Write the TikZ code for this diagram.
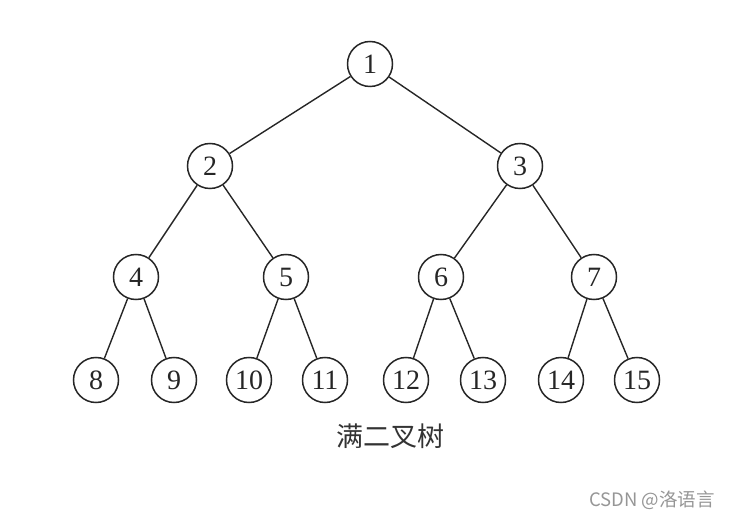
\documentclass[tikz,border=0pt]{standalone}
\usepackage{fontspec}
\setmainfont{Liberation Serif}
\newfontfamily\cjk{Noto Sans CJK SC}
\definecolor{wm}{RGB}{150,150,150}
\begin{document}
\begin{tikzpicture}[x=1pt,y=-1pt,
  tnode/.style={circle,draw=black!85,line width=1.5pt,minimum size=45pt,inner sep=0pt,text=black!85,font=\fontsize{28}{28}\selectfont},
  edge/.style={line width=1.4pt,draw=black!85}]
\useasboundingbox (0,0) rectangle (733,518);
\node[tnode] (n1) at (370,64) {1};
\node[tnode] (n2) at (210,166) {2};
\node[tnode] (n3) at (520,166) {3};
\node[tnode] (n4) at (136,277) {4};
\node[tnode] (n5) at (286,277) {5};
\node[tnode] (n6) at (441,277) {6};
\node[tnode] (n7) at (594,277) {7};
\node[tnode] (n8) at (96,380) {8};
\node[tnode] (n9) at (174,380) {9};
\node[tnode] (n10) at (249,380) {10};
\node[tnode] (n11) at (325,380) {11};
\node[tnode] (n12) at (406,380) {12};
\node[tnode] (n13) at (483,380) {13};
\node[tnode] (n14) at (561,380) {14};
\node[tnode] (n15) at (637,380) {15};
\draw[edge] (n1) -- (n2);
\draw[edge] (n1) -- (n3);
\draw[edge] (n2) -- (n4);
\draw[edge] (n2) -- (n5);
\draw[edge] (n3) -- (n6);
\draw[edge] (n3) -- (n7);
\draw[edge] (n4) -- (n8);
\draw[edge] (n4) -- (n9);
\draw[edge] (n5) -- (n10);
\draw[edge] (n5) -- (n11);
\draw[edge] (n6) -- (n12);
\draw[edge] (n6) -- (n13);
\draw[edge] (n7) -- (n14);
\draw[edge] (n7) -- (n15);
\node[font=\cjk\fontsize{27}{27}\selectfont,text=black!80] (cap) at (390,436) {满二叉树};
\node[font=\cjk\fontsize{18.5}{18.5}\selectfont,text=wm] (wmk) at (652,500) {CSDN @洛语言};
\end{tikzpicture}
\end{document}
